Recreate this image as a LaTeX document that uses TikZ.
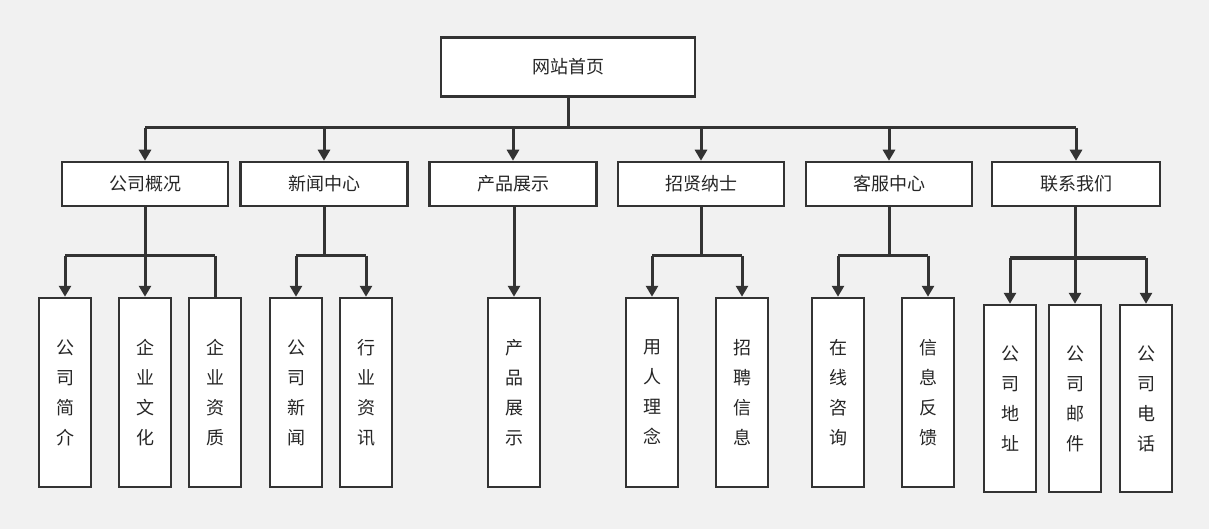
\documentclass[tikz,border=0pt]{standalone}
\usepackage{fontspec}
\setmainfont{Noto Sans CJK SC}
\usetikzlibrary{arrows.meta}
\definecolor{ln}{HTML}{333333}
\definecolor{bg}{HTML}{F1F1F1}
\begin{document}
\begin{tikzpicture}[x=1pt,y=-1pt,
  box/.style={draw=ln,line width=2.5pt,fill=white,inner sep=0pt,font=\fontsize{18}{30}\selectfont,text=black!85},
  con/.style={draw=ln,line width=3pt},
  arr/.style={con,-{Triangle[width=12pt,length=11pt]}}]
\fill[bg] (0,0) rectangle (1209,529);
\useasboundingbox (0,0) rectangle (1209,529);
\newcommand{\hb}[4]{\node[box,minimum width=#3pt,minimum height=44pt] (#1) at (#2,184) {#4};}
\newcommand{\vb}[5]{\node[box,minimum width=52pt,minimum height=#3pt,align=center] (#1) at (#2,#4) {#5};}
\node[box,minimum width=254pt,minimum height=59pt] (top) at (568,67) {网站首页};
\hb{a}{145}{166}{公司概况}
\hb{b}{324}{167}{新闻中心}
\hb{c}{513}{167}{产品展示}
\hb{d}{701}{166}{招贤纳士}
\hb{e}{889}{166}{客服中心}
\hb{f}{1076}{168}{联系我们}
\vb{a1}{65}{189}{392.5}{公\\司\\简\\介}
\vb{a2}{145}{189}{392.5}{企\\业\\文\\化}
\vb{a3}{215}{189}{392.5}{企\\业\\资\\质}
\vb{b1}{296}{189}{392.5}{公\\司\\新\\闻}
\vb{b2}{366}{189}{392.5}{行\\业\\资\\讯}
\vb{c1}{514}{189}{392.5}{产\\品\\展\\示}
\vb{d1}{652}{189}{392.5}{用\\人\\理\\念}
\vb{d2}{742}{189}{392.5}{招\\聘\\信\\息}
\vb{e1}{838}{189}{392.5}{在\\线\\咨\\询}
\vb{e2}{928}{189}{392.5}{信\\息\\反\\馈}
\vb{f1}{1010}{187}{398.5}{公\\司\\地\\址}
\vb{f2}{1075}{187}{398.5}{公\\司\\邮\\件}
\vb{f3}{1146}{187}{398.5}{公\\司\\电\\话}
\coordinate (tj) at (568,128);
\draw[con] (top.south) -- (tj);
\draw[con] (145,128) -- (1076,128);
\foreach \n in {a,b,c,d,e,f} \draw[arr] (\n.north |- tj) -- (\n.north);
\coordinate (aj) at (145,256);
\draw[arr] (a.south) -- (a2.north);
\draw[con] (a1.north |- aj) -- (a3.north |- aj);
\draw[arr] (a1.north |- aj) -- (a1.north);
\draw[con] (a3.north |- aj) -- (a3.north);
\coordinate (bj) at (324,256);
\draw[con] (b.south) -- (bj);
\draw[con] (b1.north |- bj) -- (b2.north |- bj);
\draw[arr] (b1.north |- bj) -- (b1.north);
\draw[arr] (b2.north |- bj) -- (b2.north);
\draw[arr] (c.south -| c1.north) -- (c1.north);
\coordinate (dj) at (701,256);
\draw[con] (d.south) -- (dj);
\draw[con] (d1.north |- dj) -- (d2.north |- dj);
\draw[arr] (d1.north |- dj) -- (d1.north);
\draw[arr] (d2.north |- dj) -- (d2.north);
\coordinate (ej) at (889,256);
\draw[con] (e.south) -- (ej);
\draw[con] (e1.north |- ej) -- (e2.north |- ej);
\draw[arr] (e1.north |- ej) -- (e1.north);
\draw[arr] (e2.north |- ej) -- (e2.north);
\coordinate (fj) at (1076,258);
\draw[arr] (f.south -| f2.north) -- (f2.north);
\draw[con] (f1.north |- fj) -- (f3.north |- fj);
\draw[arr] (f1.north |- fj) -- (f1.north);
\draw[arr] (f3.north |- fj) -- (f3.north);
\end{tikzpicture}
\end{document}
